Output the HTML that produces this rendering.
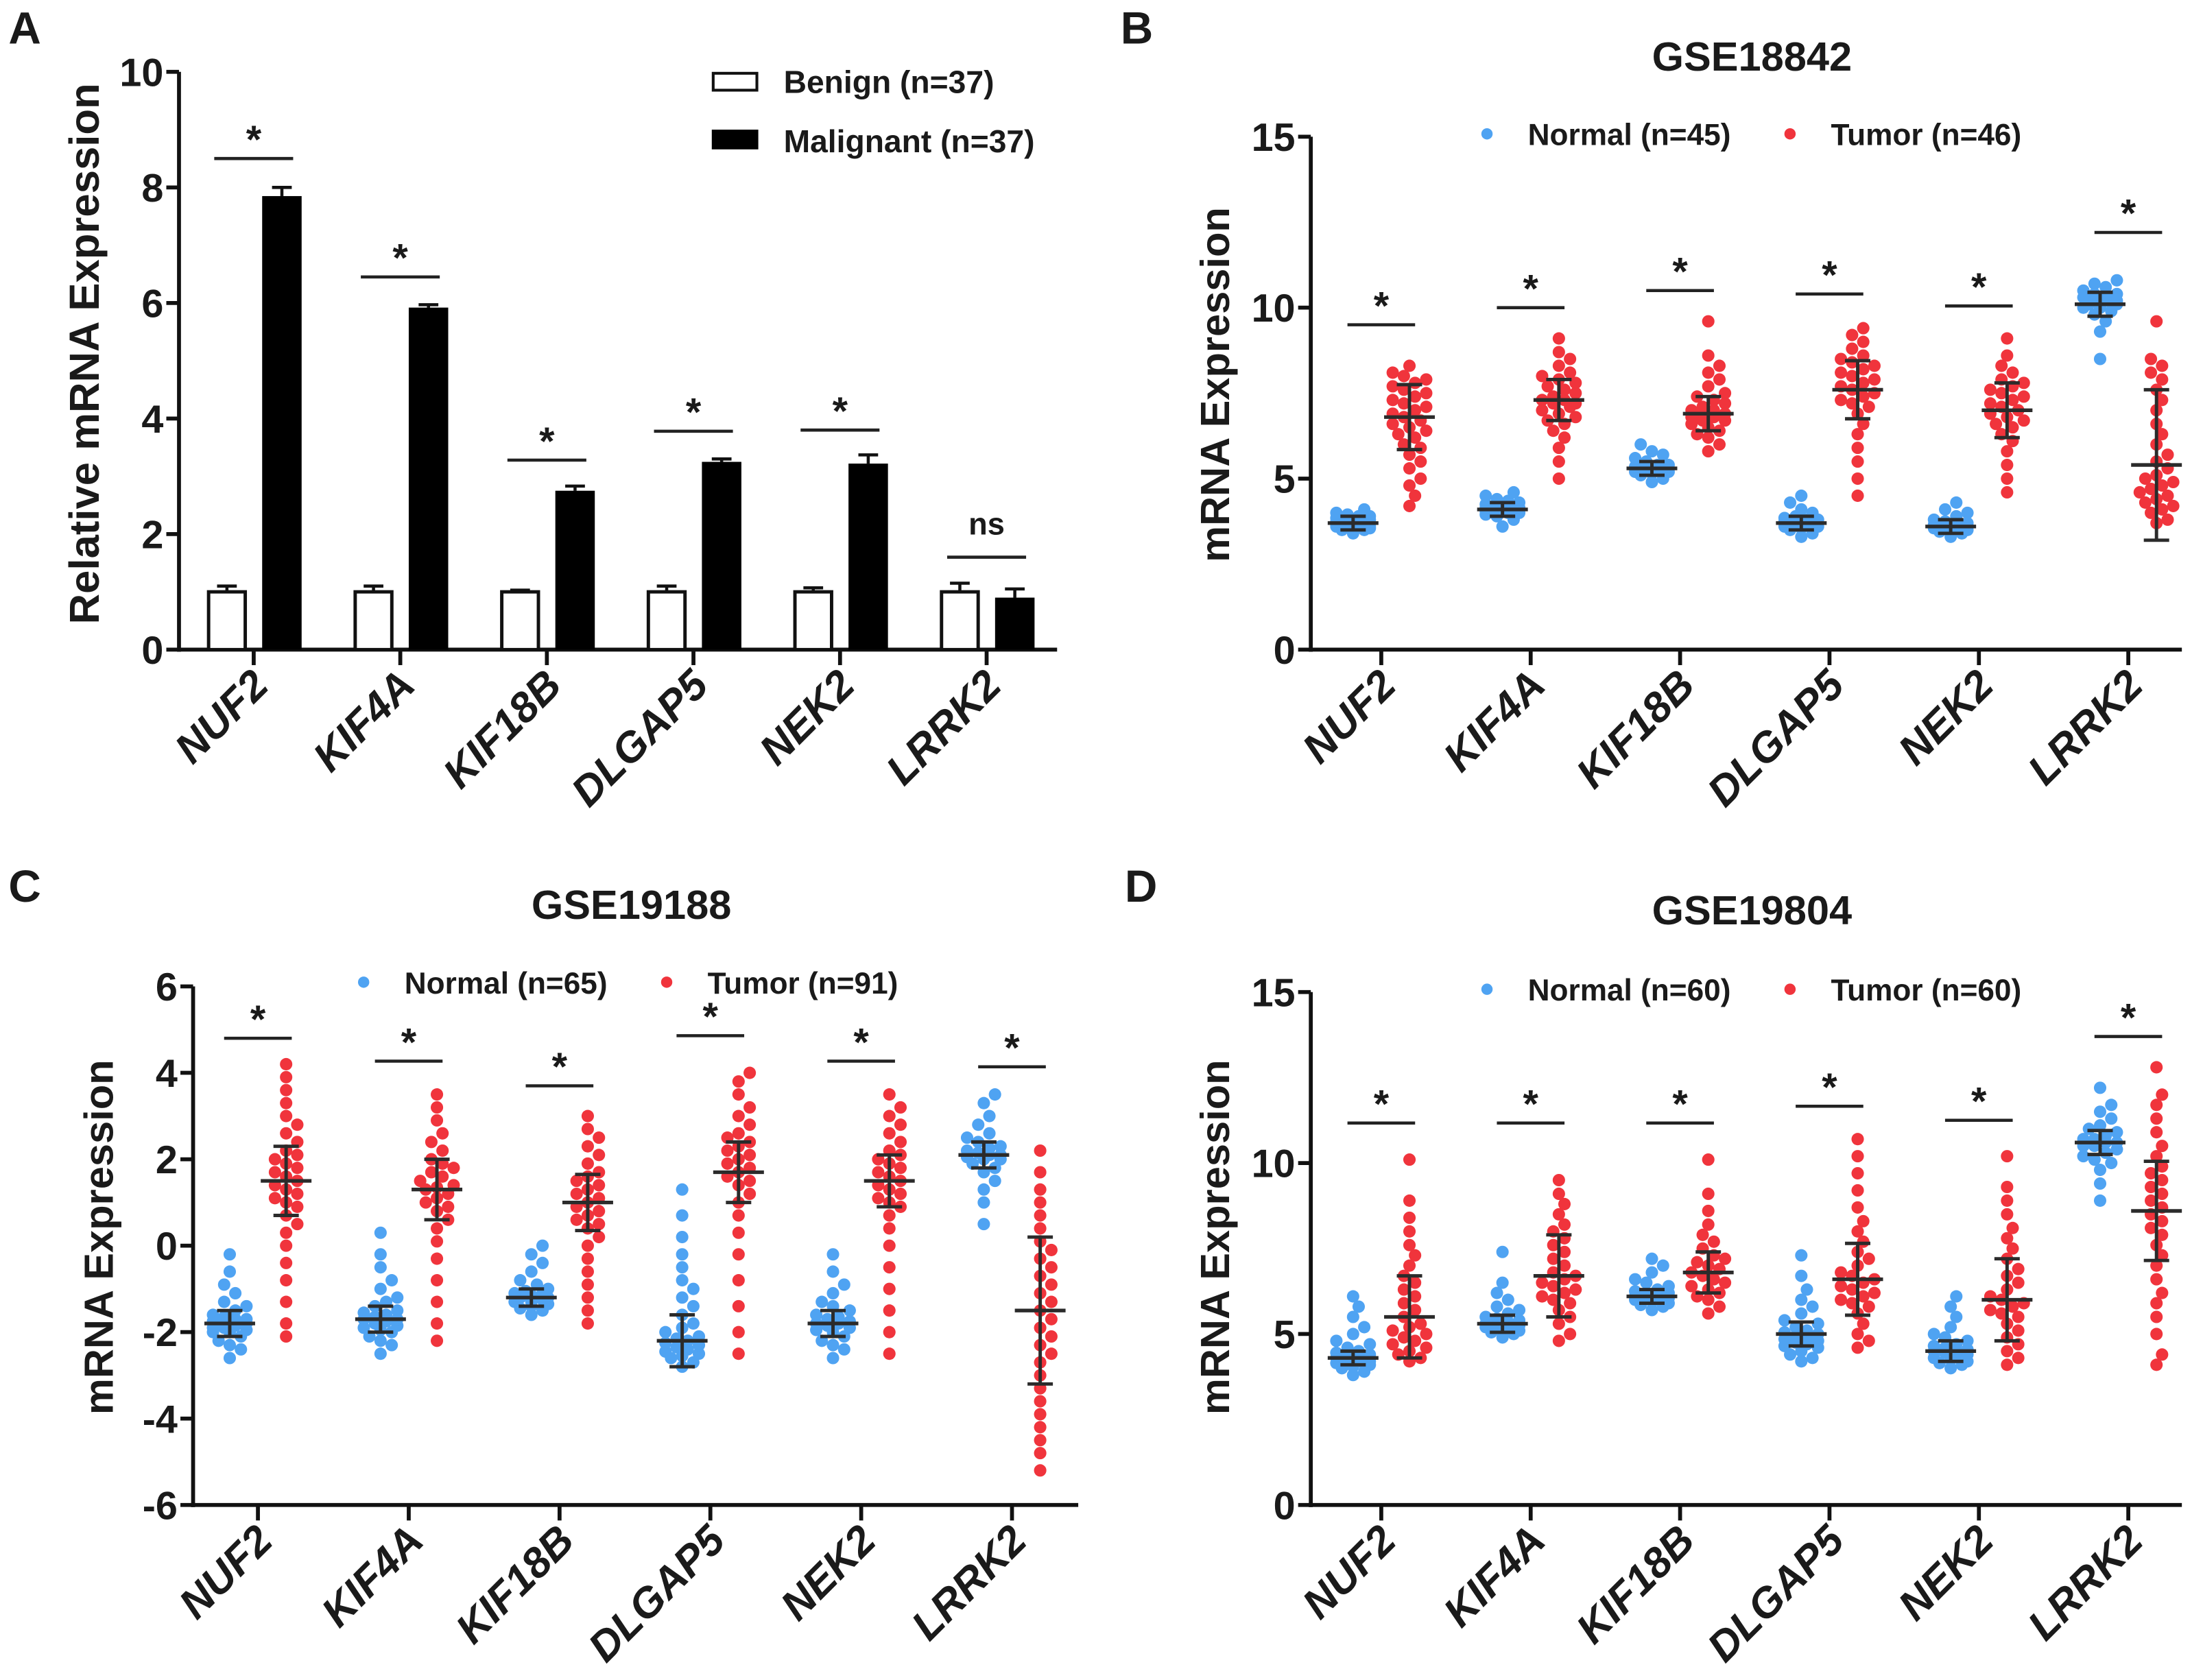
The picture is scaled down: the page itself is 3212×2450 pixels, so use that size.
<!DOCTYPE html>
<html><head><meta charset="utf-8">
<style>
html,body{margin:0;padding:0;background:#fff;}
svg{display:block;}
text{font-family:"Liberation Sans",Arial,sans-serif;font-weight:bold;fill:#1a1a1a;}
</style></head>
<body>
<svg id="fig" xmlns="http://www.w3.org/2000/svg" width="3212" height="2450" viewBox="0 0 1563 1192.2">
<rect width="1563" height="1193" fill="#fff"/>
</svg>
<script>
// ---------- shared data ----------
const genes = ["NUF2","KIF4A","KIF18B","DLGAP5","NEK2","LRRK2"];

// Panel A
const benignMean = [1,1,1,1,1,1];
const benignErr = [0.1,0.1,0.03,0.1,0.07,0.15];
const malignantMean = [7.85,5.92,2.75,3.25,3.22,0.9];
const malignantErr = [0.15,0.05,0.08,0.05,0.15,0.15];
const aSigLevel = [8.5,6.45,3.28,3.78,3.8,1.6];
const aSigLabel = ["*","*","*","*","*","ns"];
const aTicks = [0,2,4,6,8,10];

// Panel B (GSE18842)
const bNormal = [
 [3.4,3.5,3.5,3.55,3.6,3.6,3.6,3.65,3.65,3.7,3.7,3.7,3.7,3.75,3.75,3.75,3.8,3.8,3.8,3.85,3.9,3.9,3.95,4.0,4.1],
 [3.6,3.8,3.9,3.95,4.0,4.0,4.05,4.05,4.1,4.1,4.1,4.15,4.15,4.2,4.2,4.25,4.3,4.35,4.4,4.5,4.6],
 [4.9,5.0,5.1,5.15,5.2,5.2,5.25,5.25,5.3,5.3,5.3,5.35,5.35,5.4,5.4,5.5,5.6,5.7,5.8,6.0],
 [3.3,3.4,3.5,3.55,3.6,3.6,3.65,3.65,3.7,3.7,3.7,3.75,3.75,3.8,3.8,3.85,3.9,4.0,4.1,4.3,4.5],
 [3.3,3.4,3.45,3.5,3.5,3.55,3.55,3.6,3.6,3.6,3.65,3.65,3.7,3.7,3.75,3.8,3.9,4.0,4.1,4.3],
 [8.5,9.3,9.6,9.8,9.9,10.0,10.0,10.1,10.1,10.2,10.2,10.25,10.3,10.3,10.4,10.4,10.5,10.6,10.7,10.8]];
const bTumor = [
 [4.2,4.5,4.8,5.0,5.3,5.5,5.7,5.9,6.0,6.2,6.3,6.4,6.5,6.6,6.7,6.8,6.9,7.0,7.1,7.2,7.3,7.4,7.5,7.6,7.7,7.8,7.9,8.0,8.1,8.3],
 [5.0,5.5,5.9,6.2,6.4,6.6,6.7,6.8,6.9,7.0,7.1,7.2,7.2,7.3,7.3,7.4,7.5,7.6,7.7,7.8,7.9,8.0,8.1,8.3,8.5,8.7,9.1],
 [5.8,6.0,6.2,6.3,6.4,6.5,6.6,6.7,6.7,6.8,6.8,6.9,6.9,7.0,7.0,7.1,7.2,7.3,7.4,7.5,7.7,7.9,8.1,8.3,8.6,9.6],
 [4.5,5.0,5.5,5.9,6.3,6.6,6.9,7.1,7.2,7.3,7.4,7.5,7.6,7.7,7.8,7.9,8.0,8.1,8.2,8.3,8.4,8.5,8.6,8.8,9.0,9.2,9.4],
 [4.6,5.0,5.4,5.8,6.1,6.3,6.5,6.6,6.7,6.8,6.9,7.0,7.1,7.2,7.3,7.4,7.5,7.6,7.7,7.8,7.9,8.1,8.3,8.6,9.1],
 [3.7,3.8,4.0,4.1,4.2,4.3,4.4,4.5,4.6,4.7,4.8,4.9,5.0,5.1,5.3,5.5,5.7,6.0,6.3,6.6,7.0,7.3,7.6,7.9,8.1,8.3,8.5,9.6]];
const bNormalMean = [3.7,4.1,5.3,3.7,3.6,10.1];
const bNormalSD = [0.2,0.2,0.2,0.2,0.2,0.35];
const bTumorMean = [6.8,7.3,6.9,7.6,7.0,5.4];
const bTumorSD = [0.95,0.6,0.5,0.85,0.8,2.2];
const bSig = [9.5,10.0,10.5,10.4,10.05,12.2];
const bTicks = [0,5,10,15];

// Panel C (GSE19188)
const cNormal = [
 [-2.6,-2.4,-2.3,-2.2,-2.1,-2.0,-2.0,-1.95,-1.9,-1.9,-1.85,-1.8,-1.8,-1.75,-1.7,-1.7,-1.65,-1.6,-1.5,-1.4,-1.3,-1.1,-0.9,-0.6,-0.2],
 [-2.5,-2.3,-2.2,-2.1,-2.0,-1.95,-1.9,-1.85,-1.8,-1.75,-1.7,-1.7,-1.65,-1.6,-1.55,-1.5,-1.4,-1.3,-1.2,-1.0,-0.8,-0.5,-0.2,0.3],
 [-1.6,-1.5,-1.45,-1.4,-1.35,-1.3,-1.3,-1.25,-1.2,-1.2,-1.15,-1.1,-1.1,-1.05,-1.0,-0.9,-0.8,-0.6,-0.4,-0.2,0],
 [-2.8,-2.7,-2.6,-2.55,-2.5,-2.45,-2.4,-2.35,-2.3,-2.25,-2.2,-2.15,-2.1,-2.0,-1.9,-1.8,-1.6,-1.4,-1.2,-1.0,-0.8,-0.5,-0.2,0.2,0.7,1.3],
 [-2.6,-2.4,-2.3,-2.2,-2.1,-2.0,-1.95,-1.9,-1.85,-1.8,-1.8,-1.75,-1.7,-1.65,-1.6,-1.5,-1.4,-1.3,-1.1,-0.9,-0.6,-0.2],
 [0.5,1.0,1.3,1.5,1.7,1.8,1.9,2.0,2.0,2.05,2.1,2.1,2.15,2.2,2.25,2.3,2.4,2.5,2.6,2.8,3.0,3.3,3.5]];
const cTumor = [
 [-2.1,-1.8,-1.3,-0.8,-0.4,0,0.3,0.5,0.7,0.9,1.0,1.1,1.2,1.3,1.4,1.5,1.6,1.7,1.8,1.9,2.0,2.1,2.2,2.4,2.6,2.8,3.0,3.3,3.6,3.9,4.2],
 [-2.2,-1.8,-1.3,-0.8,-0.3,0.1,0.4,0.6,0.8,0.9,1.0,1.1,1.2,1.3,1.35,1.4,1.5,1.6,1.7,1.8,1.9,2.0,2.2,2.4,2.6,2.9,3.2,3.5],
 [-1.8,-1.5,-1.2,-0.9,-0.6,-0.3,0,0.2,0.4,0.5,0.6,0.7,0.8,0.9,1.0,1.1,1.2,1.3,1.4,1.5,1.6,1.7,1.9,2.1,2.3,2.5,2.7,3.0],
 [-2.5,-2.0,-1.4,-0.8,-0.2,0.3,0.7,1.0,1.2,1.4,1.5,1.6,1.7,1.8,1.9,2.0,2.1,2.2,2.3,2.4,2.5,2.6,2.8,3.0,3.2,3.5,3.8,4.0],
 [-2.5,-2.0,-1.5,-1.0,-0.5,0,0.4,0.7,0.9,1.0,1.1,1.2,1.3,1.4,1.5,1.6,1.7,1.8,1.9,2.0,2.1,2.2,2.4,2.6,2.8,3.0,3.2,3.5],
 [-5.2,-4.8,-4.5,-4.2,-3.9,-3.6,-3.3,-3.0,-2.7,-2.5,-2.3,-2.1,-1.9,-1.7,-1.5,-1.3,-1.1,-0.9,-0.7,-0.5,-0.3,-0.1,0.1,0.4,0.7,1.0,1.3,1.7,2.2]];
const cNormalMean = [-1.8,-1.7,-1.2,-2.2,-1.8,2.1];
const cNormalSD = [0.3,0.3,0.2,0.6,0.3,0.3];
const cTumorMean = [1.5,1.3,1.0,1.7,1.5,-1.5];
const cTumorSD = [0.8,0.7,0.65,0.7,0.6,1.7];
const cSig = [4.8,4.27,3.7,4.86,4.27,4.14];
const cTicks = [-6,-4,-2,0,2,4,6];

// Panel D (GSE19804)
const dNormal = [
 [3.8,3.9,4.0,4.05,4.1,4.15,4.2,4.2,4.25,4.3,4.3,4.35,4.4,4.45,4.5,4.6,4.7,4.8,5.0,5.2,5.5,5.8,6.1],
 [4.9,5.0,5.05,5.1,5.15,5.2,5.2,5.25,5.3,5.3,5.35,5.4,5.45,5.5,5.6,5.7,5.8,6.0,6.2,6.5,7.4],
 [5.7,5.8,5.85,5.9,5.95,6.0,6.0,6.05,6.1,6.1,6.15,6.2,6.2,6.25,6.3,6.4,6.5,6.6,6.8,7.0,7.2],
 [4.2,4.3,4.4,4.5,4.6,4.65,4.7,4.75,4.8,4.85,4.9,4.95,5.0,5.05,5.1,5.2,5.3,5.4,5.6,5.8,6.0,6.3,6.7,7.3],
 [4.0,4.1,4.15,4.2,4.25,4.3,4.35,4.4,4.45,4.5,4.5,4.55,4.6,4.65,4.7,4.8,4.9,5.0,5.2,5.5,5.8,6.1],
 [8.9,9.4,9.8,10.0,10.1,10.2,10.3,10.4,10.5,10.5,10.6,10.6,10.7,10.7,10.8,10.9,11.0,11.1,11.3,11.5,11.7,12.2]];
const dTumor = [
 [4.2,4.3,4.4,4.5,4.6,4.7,4.8,4.9,5.0,5.1,5.2,5.3,5.5,5.7,5.9,6.1,6.3,6.5,6.7,7.0,7.3,7.6,8.0,8.4,8.9,10.1],
 [4.8,5.0,5.3,5.5,5.7,5.9,6.0,6.1,6.2,6.3,6.4,6.5,6.6,6.7,6.8,7.0,7.2,7.4,7.6,7.8,8.0,8.2,8.5,8.8,9.1,9.5],
 [5.6,5.8,6.0,6.1,6.2,6.3,6.4,6.5,6.6,6.7,6.8,6.9,7.0,7.1,7.2,7.3,7.5,7.7,7.9,8.2,8.6,9.1,10.1],
 [4.6,4.8,5.0,5.3,5.6,5.8,5.9,6.0,6.1,6.2,6.3,6.4,6.5,6.6,6.7,6.8,7.0,7.2,7.4,7.7,8.0,8.3,8.7,9.2,9.7,10.2,10.7],
 [4.1,4.3,4.5,4.7,4.9,5.1,5.3,5.5,5.6,5.7,5.8,5.9,6.0,6.1,6.3,6.5,6.7,6.9,7.2,7.5,7.8,8.1,8.5,8.9,9.3,10.2],
 [4.1,4.4,5.0,5.5,5.9,6.2,6.6,7.0,7.3,7.6,7.9,8.1,8.3,8.5,8.7,8.9,9.1,9.3,9.5,9.7,9.9,10.2,10.5,10.9,11.3,11.7,12.0,12.8]];
const dNormalMean = [4.3,5.3,6.1,5.0,4.5,10.6];
const dNormalSD = [0.2,0.25,0.2,0.35,0.3,0.35];
const dTumorMean = [5.5,6.7,6.8,6.6,6.0,8.6];
const dTumorSD = [1.2,1.2,0.6,1.05,1.2,1.45];
const dSig = [11.17,11.17,11.17,11.66,11.25,13.7];
const dTicks = [0,5,10,15];

// ---------- drawing helpers ----------
const NS = "http://www.w3.org/2000/svg";
const svg = document.getElementById("fig");
function el(tag, attrs, parent, txt){
  const e = document.createElementNS(NS, tag);
  for (const k in attrs) e.setAttribute(k, attrs[k]);
  if (txt !== undefined) e.textContent = txt;
  (parent || svg).appendChild(e);
  return e;
}
function group(name, parent){
  const g = el("g", {}, parent);
  
  
  return g;
}
const BLUE = "#4fa3f2", RED = "#f0343c", DARK = "#2b2b2b";

function axes(g, cfg, ticks, yTitle){
  const y = v => cfg.yBot - (v - cfg.min) / (cfg.max - cfg.min) * (cfg.yBot - cfg.yTop);
  const ax = el("line", {x1:cfg.x0, y1:cfg.yTop, x2:cfg.x0, y2:cfg.yBot+1.5, stroke:"#111","stroke-width":2.8}, g);
  
  
  const xa = el("line", {x1:cfg.x0-1.4, y1:cfg.yBot, x2:cfg.xEnd, y2:cfg.yBot, stroke:"#111","stroke-width":2.8}, g);
  
  
  ticks.forEach(t => {
    el("line", {x1:cfg.x0-9, y1:y(t), x2:cfg.x0, y2:y(t), stroke:"#111","stroke-width":2.8}, g);
    const tl = el("text", {x:cfg.x0-11, y:y(t)+10, "text-anchor":"end","font-size":28}, g, String(t));
    
    
  });
  genes.forEach((gn, i) => {
    const cx = cfg.c0 + i*cfg.step;
    el("line", {x1:cx, y1:cfg.yBot, x2:cx, y2:cfg.yBot+11, stroke:"#111","stroke-width":2.8}, g);
    const t = el("text", {transform:`translate(${cx+12},${cfg.yBot+27}) rotate(-45)`, "text-anchor":"end","font-size":30,"font-style":"italic"}, g, gn);
    
    
  });
  const yt = el("text", {transform:`translate(${cfg.titleX},${cfg.titleY}) rotate(-90)`, "text-anchor":"middle","font-size":cfg.titleSize}, g, yTitle);
  
  
  return y;
}

function sigMark(g, cx, yv, label, half){
  el("line", {x1:cx-half, y1:yv, x2:cx+half, y2:yv, stroke:"#222","stroke-width":2.2}, g);
  const t = el("text", {x:cx, y: label==="*" ? yv-4 : yv-16, "text-anchor":"middle","font-size": label==="*"?28:22}, g, label);
  
  
}

function swarm(g, vals, cx, y, color, r){
  const placed = [];
  const sorted = vals.slice().sort((a,b)=>a-b);
  const maxOff = 15;
  const cands = [0];
  for (let k = 1; k*r*0.9 <= maxOff; k++){ cands.push(k*r*0.9); cands.push(-k*r*0.9); }
  sorted.forEach(v => {
    const py = y(v);
    let best = 0, bestScore = Infinity;
    for (const off of cands){
      let score = 0;
      placed.forEach(p => { const d = Math.hypot(p[0]-off, p[1]-py); if (d < 2*r*0.92) score += (2*r - d); });
      score += Math.abs(off)*0.01;
      if (score < bestScore){ bestScore = score; best = off; }
      if (score < 0.2) break;
    }
    placed.push([best, py]);
    const c = el("circle", {cx:cx+best, cy:py, r:r, fill:color}, g);
    
    
  });
}

function errBar(g, cx, y, m, sd){
  el("line", {x1:cx, y1:y(m-sd), x2:cx, y2:y(m+sd), stroke:DARK,"stroke-width":2.4}, g);
  el("line", {x1:cx-9, y1:y(m-sd), x2:cx+9, y2:y(m-sd), stroke:DARK,"stroke-width":2.4}, g);
  el("line", {x1:cx-9, y1:y(m+sd), x2:cx+9, y2:y(m+sd), stroke:DARK,"stroke-width":2.4}, g);
  const ml = el("line", {x1:cx-18, y1:y(m), x2:cx+18, y2:y(m), stroke:DARK,"stroke-width":2.6}, g);
  
  
}

function panelLetter(x, y, L){
  const t = el("text", {x:x, y:y, "font-size":32}, svg, L);
  
  
}

// ---------- Panel A ----------
(function(){
  const g = group("panel-a");
  const cfg = {x0:127, xEnd:750, yTop:51, yBot:461, min:0, max:10, c0:180, step:104, titleX:70, titleY:251, titleSize:30};
  const y = axes(g, cfg, aTicks, "Relative mRNA Expression");
  genes.forEach((gn, i) => {
    const cx = cfg.c0 + i*cfg.step;
    el("line", {x1:cx-19, y1:y(benignMean[i]+benignErr[i]), x2:cx-19, y2:y(benignMean[i]), stroke:"#111","stroke-width":2.2}, g);
    el("line", {x1:cx-26, y1:y(benignMean[i]+benignErr[i]), x2:cx-12, y2:y(benignMean[i]+benignErr[i]), stroke:"#111","stroke-width":2.2}, g);
    const b = el("rect", {x:cx-32, y:y(benignMean[i]), width:26, height:y(0)-y(benignMean[i]), fill:"#fff", stroke:"#111","stroke-width":2.4}, g);
    
    
    el("line", {x1:cx+20, y1:y(malignantMean[i]+malignantErr[i]), x2:cx+20, y2:y(malignantMean[i]), stroke:"#111","stroke-width":2.2}, g);
    el("line", {x1:cx+13, y1:y(malignantMean[i]+malignantErr[i]), x2:cx+27, y2:y(malignantMean[i]+malignantErr[i]), stroke:"#111","stroke-width":2.2}, g);
    const m = el("rect", {x:cx+6, y:y(malignantMean[i]), width:28, height:y(0)-y(malignantMean[i]), fill:"#000"}, g);
    
    
    sigMark(g, cx, y(aSigLevel[i]), aSigLabel[i], 28);
  });
  const lg = group("legend", g);
  el("rect", {x:506, y:52, width:31, height:12, fill:"#fff", stroke:"#111","stroke-width":2}, lg);
  el("text", {x:556, y:66, "font-size":22.5}, lg, "Benign (n=37)");
  el("rect", {x:505, y:92, width:33, height:14, fill:"#000"}, lg);
  el("text", {x:556, y:108, "font-size":22.5}, lg, "Malignant (n=37)");
  panelLetter(6, 31, "A");
})();

// ---------- scatter panels ----------
function scatterPanel(name, letter, lx, ly, cfg, ticks, title, tx, ty, legY, legX, nLab, tLab, N, T, NM, NS_, TM, TS, sig){
  const g = group(name);
  const y = axes(g, cfg, ticks, "mRNA Expression");
  const tt = el("text", {x:tx, y:ty, "text-anchor":"middle","font-size":29}, g, title);
  
  
  const lg = group("legend", g);
  el("circle", {cx:legX, cy:legY-8, r:4, fill:BLUE}, lg);
  el("text", {x:legX+29, y:legY, "font-size":21.5}, lg, nLab);
  el("circle", {cx:legX+215, cy:legY-8, r:4, fill:RED}, lg);
  el("text", {x:legX+244, y:legY, "font-size":21.5}, lg, tLab);
  genes.forEach((gn, i) => {
    const cx = cfg.c0 + i*cfg.step;
    const gg = group("gene-group-" + gn.toLowerCase(), g);
    swarm(gg, N[i], cx-20, y, BLUE, 4.4);
    swarm(gg, T[i], cx+20, y, RED, 4.4);
    errBar(gg, cx-20, y, NM[i], NS_[i]);
    errBar(gg, cx+20, y, TM[i], TS[i]);
    sigMark(gg, cx, y(sig[i]), "*", 24);
  });
  panelLetter(lx, ly, letter);
}

scatterPanel("panel-b","B",795,31,
  {x0:930, xEnd:1548, yTop:97, yBot:461, min:0, max:15, c0:980, step:106, titleX:872, titleY:273, titleSize:29},
  bTicks, "GSE18842", 1243, 50, 103, 1055, "Normal (n=45)", "Tumor (n=46)",
  bNormal, bTumor, bNormalMean, bNormalSD, bTumorMean, bTumorSD, bSig);

scatterPanel("panel-c","C",6,640,
  {x0:137, xEnd:765, yTop:700, yBot:1068, min:-6, max:6, c0:183, step:107, titleX:80, titleY:878, titleSize:29},
  cTicks, "GSE19188", 448, 652, 705, 258, "Normal (n=65)", "Tumor (n=91)",
  cNormal, cTumor, cNormalMean, cNormalSD, cTumorMean, cTumorSD, cSig);

scatterPanel("panel-d","D",798,640,
  {x0:930, xEnd:1548, yTop:704, yBot:1068, min:0, max:15, c0:980, step:106, titleX:872, titleY:878, titleSize:29},
  dTicks, "GSE19804", 1243, 656, 710, 1055, "Normal (n=60)", "Tumor (n=60)",
  dNormal, dTumor, dNormalMean, dNormalSD, dTumorMean, dTumorSD, dSig);
</script>
</body></html>
